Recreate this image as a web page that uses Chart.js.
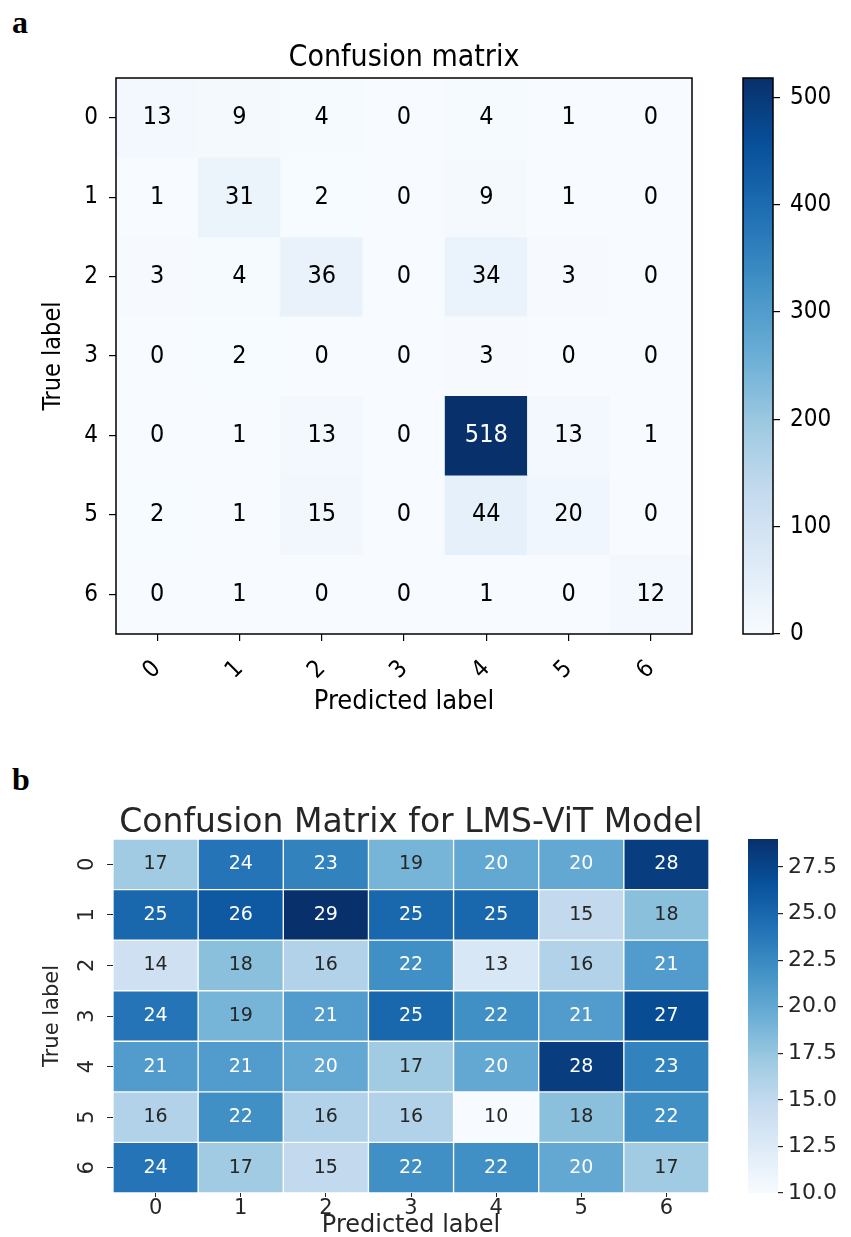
<!DOCTYPE html>
<html>
<head>
<meta charset="utf-8">
<script src="https://cdn.jsdelivr.net/npm/chart.js@4.4.1/dist/chart.umd.min.js"></script>
<style>
  body { margin: 0; background: #fff; }
  #page { position: relative; width: 851px; height: 1237px; overflow: hidden; }
  #page canvas { position: absolute; }
  .tag { position: absolute; left: 12px; font: bold 32px/32px "Liberation Serif", "Times New Roman", serif; color: #000; }
</style>
</head>
<body>
<div id="page">
  <div class="tag" style="top:6px">a</div>
  <canvas id="cmA" width="720" height="730" style="left:0;top:0"></canvas>
  <canvas id="barA" width="116" height="720" style="left:735px;top:0"></canvas>
  <div class="tag" style="top:763px">b</div>
  <canvas id="cmB" width="740" height="480" style="left:0;top:760px"></canvas>
  <canvas id="barB" width="111" height="480" style="left:740px;top:760px"></canvas>
</div>
<script>
const classLabels = ['0', '1', '2', '3', '4', '5', '6'];

// panel a - counts per true label (rows) and predicted label (columns)
const countsA = [
  [13, 9, 4, 0, 4, 1, 0],
  [1, 31, 2, 0, 9, 1, 0],
  [3, 4, 36, 0, 34, 3, 0],
  [0, 2, 0, 0, 3, 0, 0],
  [0, 1, 13, 0, 518, 13, 1],
  [2, 1, 15, 0, 44, 20, 0],
  [0, 1, 0, 0, 1, 0, 12]
];
const colorbarTicksA = [0, 100, 200, 300, 400, 500];

// panel b - LMS-ViT model
const countsB = [
  [17, 24, 23, 19, 20, 20, 28],
  [25, 26, 29, 25, 25, 15, 18],
  [14, 18, 16, 22, 13, 16, 21],
  [24, 19, 21, 25, 22, 21, 27],
  [21, 21, 20, 17, 20, 28, 23],
  [16, 22, 16, 16, 10, 18, 22],
  [24, 17, 15, 22, 22, 20, 17]
];
const colorbarTicksB = [10, 12.5, 15, 17.5, 20, 22.5, 25, 27.5];

// matplotlib "Blues"
const BLUES = ['#f7fbff', '#deebf7', '#c6dbef', '#9ecae1', '#6baed6', '#4292c6', '#2171b5', '#08519c', '#08306b'];
const FONT_A = '"DejaVu Sans Condensed", "DejaVu Sans", sans-serif';
const FONT_B = '"DejaVu Sans", sans-serif';
const INK_B = '#262626';

Chart.defaults.font.family = FONT_B;
Chart.defaults.animation = false;
Chart.defaults.plugins.legend.display = false;
Chart.defaults.plugins.tooltip.enabled = false;

function hexToRgb(h) {
  return [1, 3, 5].map(i => parseInt(h.substr(i, 2), 16));
}

function blues(t) {
  t = Math.max(0, Math.min(1, t));
  const p = t * (BLUES.length - 1);
  const i = Math.min(BLUES.length - 2, Math.floor(p));
  const f = p - i;
  const a = hexToRgb(BLUES[i]), b = hexToRgb(BLUES[i + 1]);
  return a.map((c, k) => Math.round(c + (b[k] - c) * f));
}

function rgbStr(c) {
  return 'rgb(' + c.join(',') + ')';
}

// same rule seaborn uses to pick annotation colour
function luminance(c) {
  const lin = c.map(v => {
    v = v / 255;
    return v <= 0.03928 ? v / 12.92 : Math.pow((v + 0.055) / 1.055, 2.4);
  });
  return 0.2126 * lin[0] + 0.7152 * lin[1] + 0.0722 * lin[2];
}

function rowDatasets(matrix, lo, hi, gap) {
  return matrix.map((row, r) => ({
    label: 'true ' + classLabels[r],
    values: row,
    data: row.map(() => [r - 0.5, r + 0.5]),
    backgroundColor: row.map(v => rgbStr(blues((v - lo) / (hi - lo)))),
    borderColor: '#ffffff',
    borderWidth: gap,
    borderSkipped: false,
    grouped: false,
    barPercentage: 1,
    categoryPercentage: 1
  }));
}

function cellLabels(font, pickColor) {
  return {
    id: 'cellLabels',
    afterDatasetsDraw(chart) {
      const ctx = chart.ctx;
      ctx.save();
      ctx.font = font;
      ctx.textAlign = 'center';
      ctx.textBaseline = 'middle';
      chart.data.datasets.forEach((ds, d) => {
        chart.getDatasetMeta(d).data.forEach((bar, i) => {
          const p = bar.getProps(['x', 'y', 'base'], true);
          ctx.fillStyle = pickColor(ds.values[i]);
          ctx.fillText(String(ds.values[i]), p.x, (p.y + p.base) / 2);
        });
      });
      ctx.restore();
    }
  };
}

const frame = {
  id: 'frame',
  afterDraw(chart) {
    const a = chart.chartArea, ctx = chart.ctx;
    ctx.save();
    ctx.strokeStyle = '#000';
    ctx.lineWidth = 1.5;
    ctx.strokeRect(a.left, a.top, a.right - a.left, a.bottom - a.top);
    ctx.restore();
  }
};

function blueGradient(chart) {
  const area = chart.chartArea;
  if (!area) return BLUES[0];
  const g = chart.ctx.createLinearGradient(0, area.bottom, 0, area.top);
  BLUES.forEach((c, k) => g.addColorStop(k / (BLUES.length - 1), c));
  return g;
}

function rowTicks(scale) {
  scale.ticks = classLabels.map((_, i) => ({ value: i }));
}

function makeColorbar(id, lo, hi, tickValues, fmt, st) {
  return new Chart(id, {
    type: 'bar',
    data: {
      labels: [''],
      datasets: [{
        data: [[lo, hi]],
        backgroundColor: c => blueGradient(c.chart),
        borderWidth: 0,
        barPercentage: 1,
        categoryPercentage: 1
      }]
    },
    options: {
      responsive: false,
      layout: { padding: st.padding },
      scales: {
        x: { display: false },
        y: {
          position: 'right',
          min: lo,
          max: hi,
          afterBuildTicks: s => { s.ticks = tickValues.map(v => ({ value: v })); },
          grid: { drawOnChartArea: false, tickLength: st.tickLength, color: st.color, lineWidth: 1.2 },
          border: { display: false },
          ticks: { color: st.color, font: { family: st.family, size: st.size }, padding: st.tickPadding, callback: fmt },
          afterFit: s => { s.width = 70; }
        }
      }
    },
    plugins: st.outline ? [frame] : []
  });
}

// ---- panel a ----
const maxA = Math.max(...countsA.flat());

new Chart('cmA', {
  type: 'bar',
  data: { labels: classLabels, datasets: rowDatasets(countsA, 0, maxA, 0) },
  options: {
    responsive: false,
    layout: { padding: { top: 0, right: 28, bottom: 0, left: 0 } },
    plugins: {
      title: {
        display: true,
        text: 'Confusion matrix',
        fullSize: false,
        color: '#000',
        font: { family: FONT_A, size: 30, weight: 'normal' },
        padding: { top: 40, bottom: 2 }
      }
    },
    scales: {
      x: {
        grid: { offset: false, drawOnChartArea: false, tickLength: 7, color: '#000', lineWidth: 1.2 },
        border: { display: false },
        ticks: { color: '#000', font: { family: FONT_A, size: 24 }, minRotation: 45, maxRotation: 45, padding: 14, autoSkip: false },
        title: { display: true, text: 'Predicted label', color: '#000', font: { family: FONT_A, size: 27 }, padding: { top: 0, bottom: 12 } },
        afterFit: s => { s.height = 96; }
      },
      y: {
        type: 'linear',
        reverse: true,
        min: -0.5,
        max: 6.5,
        afterBuildTicks: rowTicks,
        grid: { drawOnChartArea: false, tickLength: 7, color: '#000', lineWidth: 1.2 },
        border: { display: false },
        ticks: { color: '#000', font: { family: FONT_A, size: 24 }, padding: 11, callback: v => classLabels[v] },
        title: { display: true, text: 'True label', color: '#000', font: { family: FONT_A, size: 25 }, padding: { top: 38, bottom: 0 } },
        afterFit: s => { s.width = 116; }
      }
    }
  },
  plugins: [cellLabels('25px ' + FONT_A, v => (v > maxA / 2 ? '#ffffff' : '#000000')), frame]
});

makeColorbar('barA', 0, maxA, colorbarTicksA, v => String(v), {
  padding: { left: 8, right: 8, top: 78, bottom: 86 },
  tickLength: 7, tickPadding: 10, color: '#000', family: FONT_A, size: 24, outline: true
});

// ---- panel b ----
const minB = Math.min(...countsB.flat());
const maxB = Math.max(...countsB.flat());

new Chart('cmB', {
  type: 'bar',
  data: { labels: classLabels, datasets: rowDatasets(countsB, minB, maxB, 1) },
  options: {
    responsive: false,
    layout: { padding: { top: 0, right: 31, bottom: 0, left: 0 } },
    plugins: {
      title: {
        display: true,
        text: 'Confusion Matrix for LMS-ViT Model',
        fullSize: false,
        color: INK_B,
        font: { size: 33, weight: 'normal', lineHeight: 0.94 },
        padding: { top: 48, bottom: 0 }
      }
    },
    scales: {
      x: {
        grid: { offset: false, drawOnChartArea: false, tickLength: 4, color: INK_B },
        border: { display: false },
        ticks: { color: INK_B, font: { size: 21, lineHeight: 0.8 }, padding: 3, maxRotation: 0, autoSkip: false },
        title: { display: true, text: 'Predicted label', color: INK_B, font: { size: 24 }, padding: { top: 0, bottom: 0 } },
        afterFit: s => { s.height = 47; }
      },
      y: {
        type: 'linear',
        reverse: true,
        min: -0.5,
        max: 6.5,
        afterBuildTicks: rowTicks,
        grid: { drawOnChartArea: false, tickLength: 6, color: INK_B },
        border: { display: false },
        ticks: { color: INK_B, font: { size: 21 }, padding: 13, minRotation: 90, maxRotation: 90, crossAlign: 'center', callback: v => classLabels[v] },
        title: { display: true, text: 'True label', color: INK_B, font: { size: 21 }, padding: { top: 40, bottom: 0 } },
        afterFit: s => { s.width = 113; }
      }
    }
  },
  plugins: [cellLabels('19px ' + FONT_B, v => (luminance(blues((v - minB) / (maxB - minB))) > 0.408 ? INK_B : '#ffffff'))]
});

makeColorbar('barB', minB, maxB, colorbarTicksB, v => v.toFixed(1), {
  padding: { left: 8, right: 3, top: 79, bottom: 47 },
  tickLength: 5, tickPadding: 5, color: INK_B, family: FONT_B, size: 22, outline: false
});
</script>
</body>
</html>
